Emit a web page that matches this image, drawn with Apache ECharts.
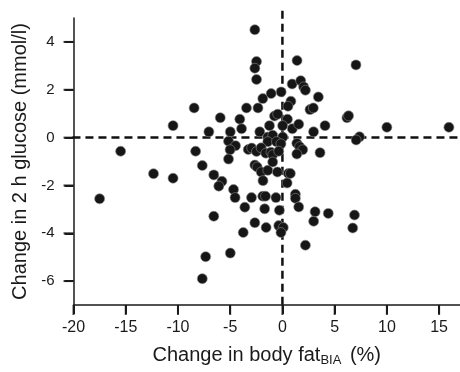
<!DOCTYPE html>
<html>
<head>
<meta charset="utf-8">
<script src="https://cdn.jsdelivr.net/npm/echarts@6/dist/echarts.min.js"></script>
<style>html,body{margin:0;padding:0;background:#fff}#c{width:460px;height:372px}</style>
</head>
<body>
<div id="c"></div>
<script>
const xTicks = [-20, -15, -10, -5, 0, 5, 10, 15];
const yTicks = [-6, -4, -2, 0, 2, 4];
const fatChange = [
  -2.64, -2.48, -2.64, -2.48, 1.40, -0.12, 0.93, 1.75, 2.03, 2.20,
  3.44, -1.08, -1.88, -8.45, -3.44, -2.34, 0.81, 0.53, 2.64, 2.96,
  -5.95, -4.08, -0.76, -0.45, 0.48, -3.91, -1.24, 0.02, 0.95, 1.56,
  4.08, -7.04, -4.99, -2.17, 2.98, -1.40, -0.93, 0.03, -5.16, -4.49,
  -1.40, -0.57, -0.14, 1.38, 1.65, 1.94, -8.31, -5.01, -3.27, -2.94,
  -2.48, -2.03, -1.59, -1.10, -0.93, -0.35, 1.38, 3.60, -5.16, -7.67,
  -2.64, -2.42, -2.03, -1.40, -0.93, -0.48, 0.57, 0.76, -6.57, -5.79,
  -6.09, -1.86, 0.45, -4.68, -4.53, -2.96, -1.88, -1.62, -0.62, 1.24,
  1.24, -3.60, -1.70, -0.29, 1.56, -6.57, 3.13, 4.39, 2.99, 6.90,
  6.73, -2.64, -1.56, -0.35, 0.08, -0.14, -3.75, 2.20, -4.99, -7.35,
  -7.67, -17.5, -15.49, -12.34, -10.47, -10.47, 7.04, 6.18, 6.33, 10.0,
  15.94, 7.38, 7.06
];
const glucoseChange = [
  4.51, 3.18, 2.90, 2.43, 3.22, 1.91, 2.24, 2.38, 2.12, 1.98,
  1.70, 1.84, 1.63, 1.24, 1.24, 1.24, 1.52, 1.31, 1.17, 1.24,
  0.83, 0.77, 0.90, 0.98, 0.77, 0.37, 0.50, 0.50, 0.37, 0.56,
  0.50, 0.24, 0.24, 0.24, 0.24, 0.02, 0.10, 0.02, -0.15, -0.34,
  -0.17, -0.17, -0.26, -0.24, -0.38, -0.51, -0.57, -0.51, -0.50, -0.44,
  -0.58, -0.43, -0.65, -0.61, -0.72, -0.57, -0.69, -0.63, -0.90, -1.17,
  -1.15, -1.23, -1.44, -1.37, -1.02, -1.44, -1.50, -1.50, -1.56, -1.83,
  -2.03, -1.80, -1.90, -2.17, -2.51, -2.51, -2.45, -2.45, -2.51, -2.37,
  -2.54, -2.91, -2.98, -3.04, -2.90, -3.29, -3.10, -3.17, -3.50, -3.24,
  -3.78, -3.56, -3.76, -3.68, -3.76, -3.97, -3.97, -4.50, -4.83, -4.98,
  -5.90, -2.56, -0.57, -1.51, -1.70, 0.50, 3.04, 0.83, 0.91, 0.43,
  0.43, 0.03, -0.10
];
const points = fatChange.map((v, i) => [v, glucoseChange[i]]);
const vRefLine = [[0, 5.3], [0, -7]];
const hRefLine = [[-20.1, 0], [17, 0]];
const X_MIN = -20, Y_MIN = -7;

const font = '"Liberation Sans", Arial, Helvetica, sans-serif';
const ink = '#1a1a1a';
const chart = echarts.init(document.getElementById('c'), null, {renderer: 'canvas'});
const refStyle = {color: '#111', width: 2.5, type: [8, 5]};
chart.setOption({
  animation: false,
  backgroundColor: '#fff',
  grid: {left: 73.5, right: 0, top: 18, bottom: 65, containLabel: false},
  xAxis: {
    type: 'value', min: X_MIN, max: 17,
    splitLine: {show: false},
    axisLine: {show: true, onZero: false, lineStyle: {color: ink, width: 1.5}},
    axisTick: {show: true, length: 9, lineStyle: {color: ink, width: 2}, customValues: xTicks},
    axisLabel: {color: ink, fontSize: 16, fontFamily: font, margin: 9, padding: [6, 0, 0, 0], customValues: xTicks},
    name: 'Change in body fat{sub|BIA} (%)',
    nameLocation: 'middle', nameGap: 39,
    nameTextStyle: {
      color: ink, fontSize: 20, fontFamily: font,
      rich: {sub: {fontSize: 13, fontFamily: font, color: ink, verticalAlign: 'bottom', padding: [10, 3, 0, 0]}}
    }
  },
  yAxis: {
    type: 'value', min: Y_MIN, max: 5,
    splitLine: {show: false},
    axisLine: {show: true, onZero: false, lineStyle: {color: ink, width: 1.5}},
    axisTick: {show: true, length: 9, lineStyle: {color: ink, width: 2}, customValues: yTicks},
    axisLabel: {color: ink, fontSize: 15, fontFamily: font, margin: 9, padding: [0, 10, 0, 0], customValues: yTicks},
    name: 'Change in 2 h glucose (mmol/l)',
    nameLocation: 'middle', nameGap: 42, nameRotate: 90,
    nameTextStyle: {color: ink, fontSize: 20, fontFamily: font}
  },
  series: [
    {type: 'line', data: vRefLine, symbol: 'none', clip: false, silent: true, lineStyle: refStyle, z: 1},
    {type: 'line', data: hRefLine, symbol: 'none', clip: false, silent: true, lineStyle: refStyle, z: 1},
    {
      type: 'scatter', data: xTicks.map(v => [v, Y_MIN]), clip: false, silent: true, z: 2,
      symbol: 'rect', symbolSize: [2, 10], symbolOffset: [0, 5],
      itemStyle: {color: ink}
    },
    {
      type: 'scatter', data: yTicks.map(v => [X_MIN, v]), clip: false, silent: true, z: 2,
      symbol: 'rect', symbolSize: [10, 2], symbolOffset: [-5, 0],
      itemStyle: {color: ink}
    },
    {
      type: 'scatter',
      data: points,
      symbolSize: 10,
      clip: false,
      z: 3,
      itemStyle: {color: '#161616', borderColor: '#8a8a8a', borderWidth: 0.6, opacity: 1}
    }
  ]
});
</script>
</body>
</html>
